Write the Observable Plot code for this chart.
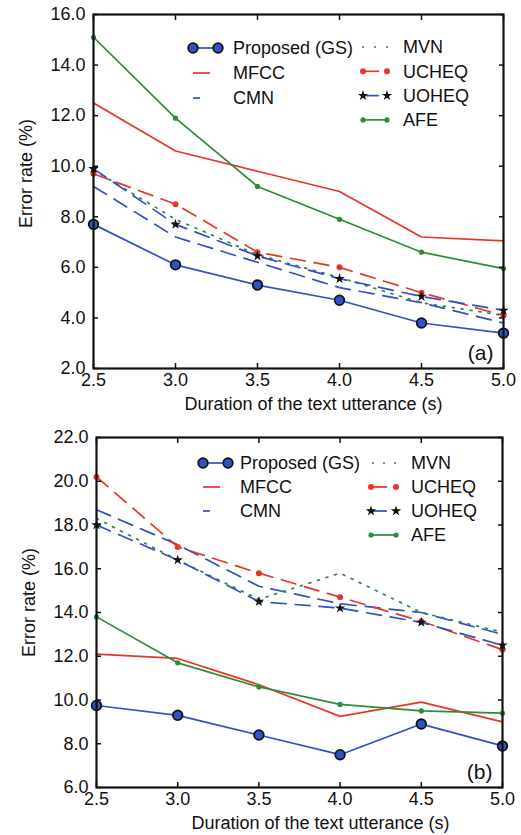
<!DOCTYPE html>
<html>
<head>
<meta charset="utf-8">
<script src="https://cdn.jsdelivr.net/npm/d3@7"></script>
<script src="https://cdn.jsdelivr.net/npm/@observablehq/plot@0.6"></script>
<style>
  html, body { margin: 0; padding: 0; background: #fff; }
  #chart { width: 521px; height: 835px; font-family: "Liberation Sans", Arial, sans-serif; }
  #chart svg { display: block; }
</style>
</head>
<body>
<div id="chart"></div>
<script>
// ---------- data ----------
const durations = [2.5, 3.0, 3.5, 4.0, 4.5, 5.0];
const seriesNames = ["Proposed (GS)", "MFCC", "CMN", "MVN", "UCHEQ", "UOHEQ", "AFE"];

// Panel (a)
const aProposed = [7.7, 6.1, 5.3, 4.7, 3.8, 3.4];
const aMFCC     = [12.5, 10.6, 9.8, 9.0, 7.2, 7.05];
const aCMN      = [9.2, 7.2, 6.2, 5.2, 4.6, 3.8];
const aMVN      = [9.85, 7.9, 6.5, 5.6, 4.6, 4.1];
const aUCHEQ    = [9.7, 8.5, 6.6, 6.0, 5.0, 4.1];
const aUOHEQ    = [9.9, 7.7, 6.45, 5.55, 4.85, 4.3];
const aAFE      = [15.1, 11.9, 9.2, 7.9, 6.6, 5.95];

// Panel (b)
const bProposed = [9.75, 9.3, 8.4, 7.5, 8.9, 7.9];
const bMFCC     = [12.1, 11.9, 10.7, 9.25, 9.9, 9.0];
const bCMN      = [18.7, 17.1, 15.2, 14.4, 14.0, 13.0];
const bMVN      = [18.3, 16.4, 14.6, 15.8, 14.0, 13.1];
const bUCHEQ    = [20.2, 17.0, 15.8, 14.7, 13.6, 12.3];
const bUOHEQ    = [18.0, 16.4, 14.5, 14.2, 13.55, 12.5];
const bAFE      = [13.8, 11.7, 10.6, 9.8, 9.5, 9.4];

const yTicksA = [2, 4, 6, 8, 10, 12, 14, 16];
const yTicksB = [6, 8, 10, 12, 14, 16, 18, 20, 22];
const xLabel = "Duration of the text utterance (s)";
const yLabel = "Error rate (%)";

// ---------- styles ----------
const BLUE = "#3152c2", RED = "#e8352a", GREEN = "#2f8a3a";
const styles = {
  "Proposed (GS)": {stroke: BLUE, dash: null, symbol: "circle", r: 4.8, fill: BLUE, mstroke: "#111", mwidth: 1.8},
  "MFCC":  {stroke: RED, dash: null},
  "CMN":   {stroke: BLUE, dash: "15,9"},
  "MVN":   {stroke: GREEN, dash: "2,7"},
  "UCHEQ": {stroke: RED, dash: "15,9", symbol: "circle", r: 3, fill: RED},
  "UOHEQ": {stroke: BLUE, dash: "15,9", symbol: "star", r: 3.3, fill: "#111"},
  "AFE":   {stroke: GREEN, dash: null, symbol: "circle", r: 2.6, fill: GREEN}
};

function tidy(arrays) {
  const rows = [];
  seriesNames.forEach((s, i) => durations.forEach((d, j) => rows.push({series: s, x: d, y: arrays[i][j]})));
  return rows;
}

function panel({data, yDomain, yTicks, tag, height, margins, xdx, ydy, legend}) {
  const marks = [];
  for (const s of seriesNames) {
    const st = styles[s];
    const rows = data.filter(d => d.series === s);
    marks.push(Plot.line(rows, {x: "x", y: "y", stroke: st.stroke, strokeWidth: 1.7, strokeDasharray: st.dash}));
  }
  for (const s of ["AFE", "UCHEQ", "UOHEQ", "Proposed (GS)"]) {
    const st = styles[s];
    const rows = data.filter(d => d.series === s);
    marks.push(Plot.dot(rows, {x: "x", y: "y", symbol: st.symbol, r: st.r, fill: st.fill,
      stroke: st.mstroke || "none", strokeWidth: st.mwidth || 0}));
  }
  const noText = () => "";
  marks.push(
    Plot.frame({strokeWidth: 2.2, stroke: "#111"}),
    Plot.axisX({anchor: "bottom", ticks: durations, tickSize: 0, tickPadding: 5, tickFormat: d => d.toFixed(1), label: null, fontSize: 18}),
    Plot.axisX({anchor: "bottom", ticks: durations, tickSize: -5, tickFormat: noText, label: null, strokeWidth: 1.5}),
    Plot.axisX({anchor: "top", ticks: durations, tickSize: -5, tickFormat: noText, label: null, strokeWidth: 1.5}),
    Plot.axisY({anchor: "left", ticks: yTicks, tickSize: 0, tickPadding: 8, tickFormat: d => d.toFixed(1), label: null, fontSize: 18}),
    Plot.axisY({anchor: "left", ticks: yTicks, tickSize: -5, tickFormat: noText, label: null, strokeWidth: 1.5}),
    Plot.axisY({anchor: "right", ticks: yTicks, tickSize: -5, tickFormat: noText, label: null, strokeWidth: 1.5}),
    Plot.text([xLabel], {frameAnchor: "bottom", lineAnchor: "middle", textAnchor: "middle", dy: 36, dx: xdx, fontSize: 18, fill: "#111"}),
    Plot.text([yLabel], {frameAnchor: "left", rotate: -90, textAnchor: "middle", lineAnchor: "middle", dx: -67, dy: ydy, fontSize: 18, fill: "#111"}),
    Plot.text([tag], {frameAnchor: "bottom-right", lineAnchor: "middle", textAnchor: "end", dx: -10, dy: -15, fontSize: 21, fill: "#111"})
  );
  const svg = Plot.plot({
    width: 521, height,
    ...margins,
    style: {fontFamily: '"Liberation Sans", Arial, sans-serif', fontSize: "18px", color: "#111", background: "#fff"},
    x: {domain: [2.5, 5.0]},
    y: {domain: yDomain},
    marks
  });
  // legend (drawn in the plot's SVG, inside the frame)
  const g = d3.select(svg).append("g").attr("font-size", 18).attr("fill", "#111").attr("text-anchor", "start");
  for (const col of legend) {
    col.items.forEach((item, i) => {
      const st = styles[item.name];
      const y = col.y0 + i * col.dy;
      g.append("line").attr("x1", item.l1).attr("x2", item.l2).attr("y1", y).attr("y2", y)
        .attr("stroke", st.stroke).attr("stroke-width", 1.7).attr("stroke-dasharray", item.dash || null);
      if (st.symbol) {
        const size = st.symbol === "star" ? 34 : Math.PI * st.r * st.r;
        const sym = d3.symbol(st.symbol === "star" ? d3.symbolStar : d3.symbolCircle, size);
        for (const x of [col.m1, col.m2]) {
          g.append("path").attr("d", sym()).attr("transform", `translate(${x},${y})`)
            .attr("fill", st.fill).attr("stroke", st.mstroke || "none").attr("stroke-width", st.mwidth || 0);
        }
      }
      g.append("text").attr("x", col.tx).attr("y", y).attr("dy", "0.35em").text(item.name);
    });
  }
  return svg;
}

const chart = document.getElementById("chart");
chart.append(panel({
  data: tidy([aProposed, aMFCC, aCMN, aMVN, aUCHEQ, aUOHEQ, aAFE]),
  yDomain: [2, 16], yTicks: yTicksA, tag: "(a)", height: 415,
  margins: {marginTop: 14, marginBottom: 47, marginLeft: 93, marginRight: 18},
  xdx: 15, ydy: -18,
  legend: [
    {m1: 193, m2: 218, tx: 233, y0: 48, dy: 25, items: [
      {name: "Proposed (GS)", l1: 193, l2: 218},
      {name: "MFCC", l1: 193, l2: 210},
      {name: "CMN", l1: 193, l2: 200}]},
    {m1: 363, m2: 387, tx: 403, y0: 47, dy: 24.3, items: [
      {name: "MVN", l1: 362, l2: 389, dash: "2,10"},
      {name: "UCHEQ", l1: 363, l2: 379},
      {name: "UOHEQ", l1: 363, l2: 379},
      {name: "AFE", l1: 363, l2: 387}]}
  ]
}));
chart.append(panel({
  data: tidy([bProposed, bMFCC, bCMN, bMVN, bUCHEQ, bUOHEQ, bAFE]),
  yDomain: [6, 22], yTicks: yTicksB, tag: "(b)", height: 420,
  margins: {marginTop: 22, marginBottom: 48, marginLeft: 96, marginRight: 19},
  xdx: 21, ydy: -10,
  legend: [
    {m1: 203, m2: 228, tx: 240, y0: 48, dy: 24, items: [
      {name: "Proposed (GS)", l1: 203, l2: 228},
      {name: "MFCC", l1: 203, l2: 220},
      {name: "CMN", l1: 203, l2: 210}]},
    {m1: 371, m2: 396, tx: 411, y0: 48, dy: 24, items: [
      {name: "MVN", l1: 372, l2: 398, dash: "2,9"},
      {name: "UCHEQ", l1: 371, l2: 387},
      {name: "UOHEQ", l1: 371, l2: 387},
      {name: "AFE", l1: 371, l2: 396}]}
  ]
}));
</script>
</body>
</html>
